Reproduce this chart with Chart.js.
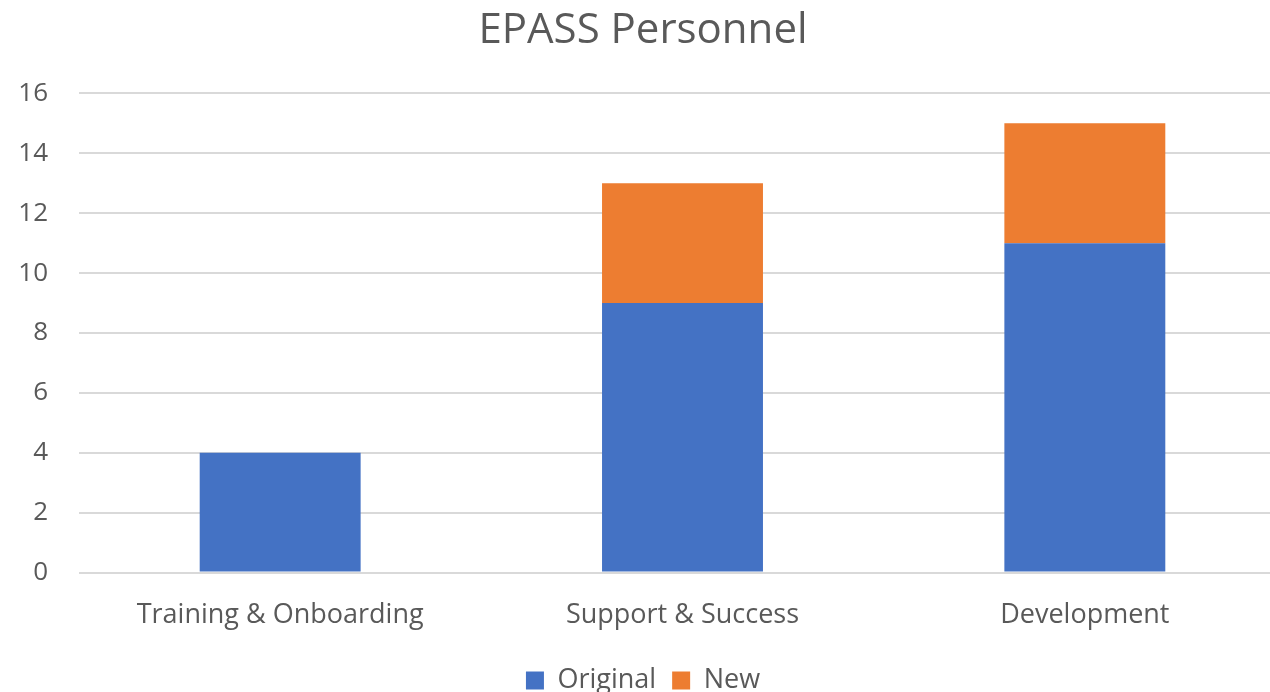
<!DOCTYPE html>
<html>
<head>
<meta charset="utf-8">
<script src="https://cdn.jsdelivr.net/npm/chart.js@4"></script>
<style>
  html, body { margin: 0; padding: 0; background: #fff; overflow: hidden; }
  #wrap { width: 1290px; height: 704px; }
</style>
</head>
<body>
<div id="wrap"><canvas id="personnelChart" width="1290" height="704"></canvas></div>
<script>
var categories = ["Training & Onboarding", "Support & Success", "Development"];
var originalCounts = [4, 9, 11];
var newCounts = [0, 4, 4];
var yTicks = [0, 2, 4, 6, 8, 10, 12, 14, 16];

var textColor = "#595959";
var fontFamily = "'Open Sans', 'Liberation Sans', sans-serif";

// bar chart, stacked, styled like the office default
function createChart(id) {
    return new Chart(document.getElementById(id), {
        type: 'bar',
        data: {
            labels: categories,
            datasets: [{
                label: "Original",
                data: originalCounts,
                backgroundColor: "#4472C4",
                barPercentage: 0.4,
                categoryPercentage: 1
            }, {
                label: "New",
                data: newCounts,
                backgroundColor: "#ED7D31",
                barPercentage: 0.4,
                categoryPercentage: 1
            }]
        },
        options: {
            responsive: false,
            animation: false,
            layout: { padding: { left: 0, right: 4, top: 0, bottom: 0 } },
            plugins: {
                title: {
                    display: true,
                    text: "EPASS Personnel",
                    color: textColor,
                    font: { family: fontFamily, size: 42, weight: 'normal' },
                    padding: { top: 6, bottom: 37 }
                },
                legend: {
                    position: 'bottom',
                    labels: {
                        color: textColor,
                        font: { family: fontFamily, size: 27 },
                        boxWidth: 18,
                        boxHeight: 18,
                        padding: 16
                    }
                },
                tooltip: { enabled: false }
            },
            scales: {
                x: {
                    stacked: true,
                    grid: { display: false },
                    border: { display: false },
                    ticks: {
                        color: textColor,
                        font: { family: fontFamily, size: 27 },
                        padding: 19,
                        maxRotation: 0
                    }
                },
                y: {
                    stacked: true,
                    min: 0,
                    max: 16,
                    afterBuildTicks: function (scale) {
                        scale.ticks = yTicks.map(function (v) { return { value: v }; });
                    },
                    afterFit: function (scale) { scale.width = 79; },
                    grid: { color: "#d9d9d9", lineWidth: 2, drawTicks: false },
                    border: { display: false },
                    ticks: {
                        color: textColor,
                        font: { family: fontFamily, size: 26 },
                        padding: 31
                    }
                }
            }
        }
    });
}

createChart("personnelChart");
</script>
</body>
</html>
